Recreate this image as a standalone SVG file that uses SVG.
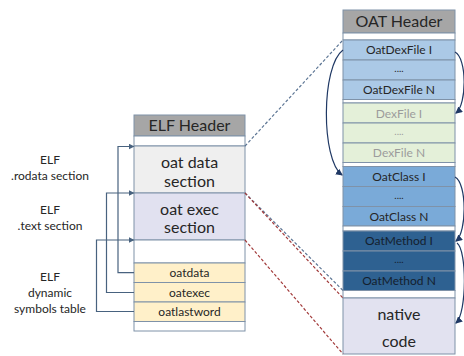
<svg xmlns="http://www.w3.org/2000/svg" width="464" height="356" viewBox="0 0 464 356">
  <style>
    text { font-family: Lato, "Open Sans", "Liberation Sans", sans-serif; fill: #262626; text-anchor: middle; }
    .hdr { font-size: 16px; }
    .big { font-size: 16px; }
    .row { font-size: 12px; }
    .lbl { font-size: 12px; }
    .dex { fill: #9c9c9c; }
    .cell { stroke: #7f92a8; stroke-width: 1; }
    .dot { font-size: 10px; }
    .elbow { fill: none; stroke: #48627f; stroke-width: 1.2; }
    .curve { fill: none; stroke: #1f3864; stroke-width: 1.2; }
    .dash-blue { fill: none; stroke: #5c7594; stroke-width: 1.2; stroke-dasharray: 3 2; }
    .dash-red { fill: none; stroke: #a23a3a; stroke-width: 1.2; stroke-dasharray: 3 2; }
  </style>
  <defs>
    <marker id="arrElbow" markerUnits="userSpaceOnUse" markerWidth="6" markerHeight="6" refX="5" refY="3" orient="auto">
      <path d="M0,0 L6,3 L0,6 z" fill="#48627f"/>
    </marker>
    <marker id="arrCurve" markerUnits="userSpaceOnUse" markerWidth="7" markerHeight="7" refX="6" refY="3.5" orient="auto">
      <path d="M0,0 L7,3.5 L0,7 z" fill="#1f3864"/>
    </marker>
  </defs>
  <rect width="464" height="356" fill="#ffffff"/>

  <!-- ELF file layout -->
  <g id="elf-header">
    <rect class="cell" x="134" y="115" width="111" height="21" fill="#a6a6a6"/>
    <text class="hdr" x="189.5" y="131">ELF Header</text>
  </g>
  <g id="elf-gap-top">
    <rect class="cell" x="134" y="136" width="111" height="10" fill="#ffffff"/>
  </g>
  <g id="oat-data-section">
    <rect class="cell" x="134" y="146" width="111" height="47" fill="#efefef"/>
    <text class="big" x="189.5" y="167.5">oat data</text>
    <text class="big" x="189.5" y="186.5">section</text>
  </g>
  <g id="oat-exec-section">
    <rect class="cell" x="134" y="193" width="111" height="47" fill="#e1e1f0"/>
    <text class="big" x="189.5" y="214.5">oat exec</text>
    <text class="big" x="189.5" y="233">section</text>
  </g>
  <g id="elf-gap-mid">
    <rect class="cell" x="134" y="240" width="111" height="23" fill="#ffffff"/>
  </g>
  <g id="sym-oatdata">
    <rect class="cell" x="134" y="263" width="111" height="19.5" fill="#fff0c9"/>
    <text class="row" x="189.5" y="277">oatdata</text>
  </g>
  <g id="sym-oatexec">
    <rect class="cell" x="134" y="282.5" width="111" height="19.5" fill="#fff0c9"/>
    <text class="row" x="189.5" y="296.5">oatexec</text>
  </g>
  <g id="sym-oatlastword">
    <rect class="cell" x="134" y="302" width="111" height="19.5" fill="#fff0c9"/>
    <text class="row" x="189.5" y="316">oatlastword</text>
  </g>
  <g id="elf-gap-bottom">
    <rect class="cell" x="134" y="321.5" width="111" height="9.5" fill="#ffffff"/>
  </g>

  <!-- ELF section labels -->
  <g id="label-rodata">
    <text class="lbl" x="50" y="164">ELF</text>
    <text class="lbl" x="50" y="180">.rodata section</text>
  </g>
  <g id="label-text">
    <text class="lbl" x="50" y="214">ELF</text>
    <text class="lbl" x="50" y="230">.text section</text>
  </g>
  <g id="label-dynsym">
    <text class="lbl" x="50" y="281">ELF</text>
    <text class="lbl" x="50" y="297">dynamic</text>
    <text class="lbl" x="50" y="313">symbols table</text>
  </g>

  <!-- OAT file layout -->
  <g id="oat-header">
    <rect class="cell" x="343" y="10" width="112" height="23" fill="#a6a6a6"/>
    <text class="hdr" x="399" y="27">OAT Header</text>
  </g>
  <g id="oat-gap-1"><rect class="cell" x="343" y="33" width="112" height="7" fill="#ffffff"/></g>
  <g id="oatdexfile-first">
    <rect class="cell" x="343" y="40" width="112" height="20" fill="#abc9e6" stroke="#6f8fb0"/>
    <text class="row" x="399" y="54">OatDexFile I</text>
  </g>
  <g id="oatdexfile-more">
    <rect class="cell" x="343" y="60" width="112" height="20" fill="#abc9e6" stroke="#6f8fb0"/>
    <text class="dot" x="399" y="72">....</text>
  </g>
  <g id="oatdexfile-last">
    <rect class="cell" x="343" y="80" width="112" height="19.5" fill="#abc9e6" stroke="#6f8fb0"/>
    <text class="row" x="399" y="94">OatDexFile N</text>
  </g>
  <g id="oat-gap-2"><rect class="cell" x="343" y="99.5" width="112" height="3.5" fill="#ffffff"/></g>
  <g id="dexfile-first">
    <rect class="cell" x="343" y="103" width="112" height="20" fill="#e4f0d9"/>
    <text class="row dex" x="399" y="117.5">DexFile I</text>
  </g>
  <g id="dexfile-more">
    <rect class="cell" x="343" y="123" width="112" height="20" fill="#e4f0d9"/>
    <text class="dot dex" x="399" y="135">....</text>
  </g>
  <g id="dexfile-last">
    <rect class="cell" x="343" y="143" width="112" height="19.5" fill="#e4f0d9"/>
    <text class="row dex" x="399" y="157">DexFile N</text>
  </g>
  <g id="oat-gap-3"><rect class="cell" x="343" y="162.5" width="112" height="4" fill="#ffffff"/></g>
  <g id="oatclass-first">
    <rect class="cell" x="343" y="166.5" width="112" height="20" fill="#7aaad8" stroke="#5b82ab"/>
    <text class="row" x="399" y="180.5">OatClass I</text>
  </g>
  <g id="oatclass-more">
    <rect class="cell" x="343" y="186.5" width="112" height="20" fill="#7aaad8" stroke="#5b82ab"/>
    <text class="dot" x="399" y="198.5">....</text>
  </g>
  <g id="oatclass-last">
    <rect class="cell" x="343" y="206.5" width="112" height="19.5" fill="#7aaad8" stroke="#5b82ab"/>
    <text class="row" x="399" y="220.5">OatClass N</text>
  </g>
  <g id="oat-gap-4"><rect class="cell" x="343" y="226" width="112" height="5" fill="#ffffff"/></g>
  <g id="oatmethod-first">
    <rect class="cell" x="343" y="231" width="112" height="20" fill="#2e6191" stroke="#244d75"/>
    <text class="row" x="399" y="245" fill="#14202e" style="fill:#14202e">OatMethod I</text>
  </g>
  <g id="oatmethod-more">
    <rect class="cell" x="343" y="251" width="112" height="20" fill="#2e6191" stroke="#244d75"/>
    <text class="dot" x="399" y="263" style="fill:#14202e">....</text>
  </g>
  <g id="oatmethod-last">
    <rect class="cell" x="343" y="271" width="112" height="19.5" fill="#2e6191" stroke="#244d75"/>
    <text class="row" x="399" y="285" style="fill:#14202e">OatMethod N</text>
  </g>
  <g id="oat-gap-5"><rect class="cell" x="343" y="290.5" width="112" height="7.5" fill="#ffffff"/></g>
  <g id="native-code">
    <rect class="cell" x="343" y="298" width="112" height="56" fill="#e2e2f0"/>
    <text class="big" x="399" y="319.5">native</text>
    <text class="big" x="399" y="346.5">code</text>
  </g>

  <!-- connectors -->
  <g id="connectors">
    <!-- symbol table entries pointing at section starts -->
    <path class="elbow" d="M134,272.7 H118 V146.5 H133.5" marker-end="url(#arrElbow)"/>
    <path class="elbow" d="M134,292.5 H106.5 V193 H133.5" marker-end="url(#arrElbow)"/>
    <path class="elbow" d="M134,311.5 H96.5 V240 H133.5" marker-end="url(#arrElbow)"/>

    <!-- ELF sections mapped onto OAT regions -->
    <path class="dash-blue" d="M245,146 L343,40"/>
    <path class="dash-blue" d="M245,193 L343,290.5"/>
    <path class="dash-red" d="M245,193 L343,298"/>
    <path class="dash-red" d="M245,240 L343,354"/>

    <!-- internal OAT references -->
    <path class="curve" d="M343,50 C321,66 321,160 342,175" marker-end="url(#arrCurve)"/>
    <path class="curve" d="M455,52 C467,58 467,104 456,113" marker-end="url(#arrCurve)"/>
    <path class="curve" d="M455,177 C467,183 467,232 456,241" marker-end="url(#arrCurve)"/>
    <path class="curve" d="M457,243 C467,250 467,313 456,323" marker-end="url(#arrCurve)"/>
  </g>
</svg>
